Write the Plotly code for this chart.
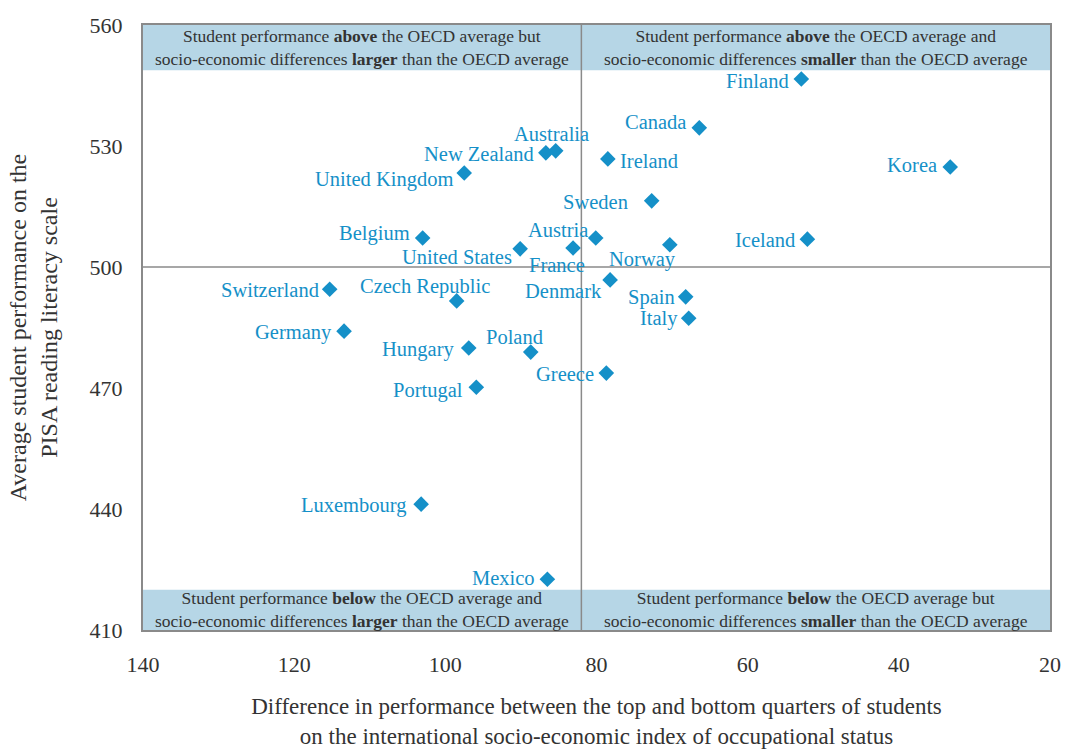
import plotly.graph_objects as go

# ── Data ────────────────────────────────────────────────────────────────────
countries = [
    "Finland", "Canada", "Korea", "Australia", "New Zealand", "Ireland",
    "United Kingdom", "Sweden", "Belgium", "Austria", "Iceland",
    "United States", "France", "Norway", "Denmark", "Switzerland",
    "Czech Republic", "Spain", "Italy", "Germany", "Hungary", "Poland",
    "Greece", "Portugal", "Luxembourg", "Mexico",
]
gradient = [
    52.9, 66.4, 33.2, 85.4, 86.7, 78.5,
    97.5, 72.7, 103.0, 80.1, 52.1,
    90.1, 83.1, 70.3, 78.2, 115.3,
    98.5, 68.2, 67.8, 113.4, 96.9, 88.7,
    78.7, 95.9, 103.2, 86.5,
]
reading_score = [
    546.6, 534.5, 524.8, 528.8, 528.3, 526.8,
    523.3, 516.4, 507.2, 507.2, 506.9,
    504.5, 504.7, 505.5, 496.8, 494.5,
    491.6, 492.6, 487.3, 484.1, 479.9, 478.9,
    473.7, 470.2, 441.2, 422.6,
]
oecd_gradient = 82
oecd_score = 500
x_ticks = [140, 120, 100, 80, 60, 40, 20]
y_ticks = [410, 440, 470, 500, 530, 560]

# ── Style ───────────────────────────────────────────────────────────────────
BLUE = "#1590c8"
BAND = "#b6d6e6"
FRAME = "#8a8a8a"
TEXT = "#333333"
FONT = "Liberation Serif, Times New Roman, serif"

# label placement: (xanchor, xshift, yshift)
label_pos = {
    "Finland": ("right", -10, -2), "Canada": ("right", -11, 6),
    "Korea": ("right", -11, 2), "Australia": ("center", -4, 17),
    "New Zealand": ("right", -10, -1), "Ireland": ("left", 10, -2),
    "United Kingdom": ("right", -9, -6), "Sweden": ("right", -22, -1),
    "Belgium": ("right", -11, 4), "Austria": ("right", -6, 8),
    "Iceland": ("right", -10, -1), "United States": ("right", -6, -8),
    "France": ("center", -16, -17), "Norway": ("center", -27, -15),
    "Denmark": ("right", -6, -11), "Switzerland": ("right", -9, -1),
    "Czech Republic": ("right", 35, 14), "Spain": ("right", -9, -1),
    "Italy": ("right", -9, 0), "Germany": ("right", -10, -1),
    "Hungary": ("right", -13, -1), "Poland": ("right", 14, 15),
    "Greece": ("right", -10, -1), "Portugal": ("right", -11, -3),
    "Luxembourg": ("right", -12, -1), "Mexico": ("right", -10, 1),
}

band_text = [
    (111, 554.4, "Student performance <b>above</b> the OECD average but<br>"
                 "socio-economic differences <b>larger</b> than the OECD average"),
    (51, 554.4, "Student performance <b>above</b> the OECD average and<br>"
                "socio-economic differences <b>smaller</b> than the OECD average"),
    (111, 415, "Student performance <b>below</b> the OECD average and<br>"
               "socio-economic differences <b>larger</b> than the OECD average"),
    (51, 415, "Student performance <b>below</b> the OECD average but<br>"
              "socio-economic differences <b>smaller</b> than the OECD average"),
]

fig = go.Figure()

# quadrant bands
fig.add_shape(type="rect", xref="x", yref="y", x0=140, x1=20, y0=548.8, y1=560,
              fillcolor=BAND, line_width=0, layer="below")
fig.add_shape(type="rect", xref="x", yref="y", x0=140, x1=20, y0=410, y1=420,
              fillcolor=BAND, line_width=0, layer="below")

# OECD average lines
fig.add_shape(type="line", xref="x", yref="y", x0=oecd_gradient, x1=oecd_gradient,
              y0=410, y1=560, line=dict(color=FRAME, width=1.5))
fig.add_shape(type="line", xref="x", yref="y", x0=140, x1=20,
              y0=oecd_score, y1=oecd_score, line=dict(color=FRAME, width=1.5))

fig.add_trace(go.Scatter(
    x=gradient, y=reading_score, mode="markers",
    marker=dict(symbol="diamond", size=12, color=BLUE),
    text=countries, hoverinfo="text", showlegend=False,
))

for c, gx, gy in zip(countries, gradient, reading_score):
    anchor, dx, dy = label_pos[c]
    fig.add_annotation(
        x=gx, y=gy, text=c, showarrow=False, xanchor=anchor, yanchor="middle",
        xshift=dx, yshift=dy, font=dict(family=FONT, size=20.5, color=BLUE),
    )

for bx, by, t in band_text:
    fig.add_annotation(
        x=bx, y=by, text=t, showarrow=False, xanchor="center", yanchor="middle",
        font=dict(family=FONT, size=17.5, color=TEXT),
    )

fig.update_layout(
    width=1065, height=749,
    paper_bgcolor="white", plot_bgcolor="white",
    margin=dict(l=143, r=15, t=25, b=119),
    font=dict(family=FONT, size=21, color=TEXT),
    xaxis=dict(
        range=[140, 20], tickvals=x_ticks, showgrid=False, zeroline=False,
        showline=True, mirror=True, linecolor=FRAME, linewidth=2,
        ticks="outside", ticklen=14, tickcolor="rgba(0,0,0,0)", automargin=False,
        tickfont=dict(size=22),
        title=dict(text="Difference in performance between the top and bottom quarters of students<br>"
                        "on the international socio-economic index of occupational status",
                   standoff=34, font=dict(size=23)),
    ),
    yaxis=dict(
        range=[410, 560], tickvals=y_ticks, showgrid=False, zeroline=False,
        showline=True, mirror=True, linecolor=FRAME, linewidth=2,
        ticks="outside", ticklen=14, tickcolor="rgba(0,0,0,0)", automargin=False,
        tickfont=dict(size=22),
        title=dict(text="Average student performance on the<br>PISA reading literacy scale",
                   standoff=25, font=dict(size=24)),
    ),
)

# drop the default page margin so the figure fills the window exactly
fig.write_html("out.html", config={"displayModeBar": False},
               post_script="document.body.style.margin='0';")
